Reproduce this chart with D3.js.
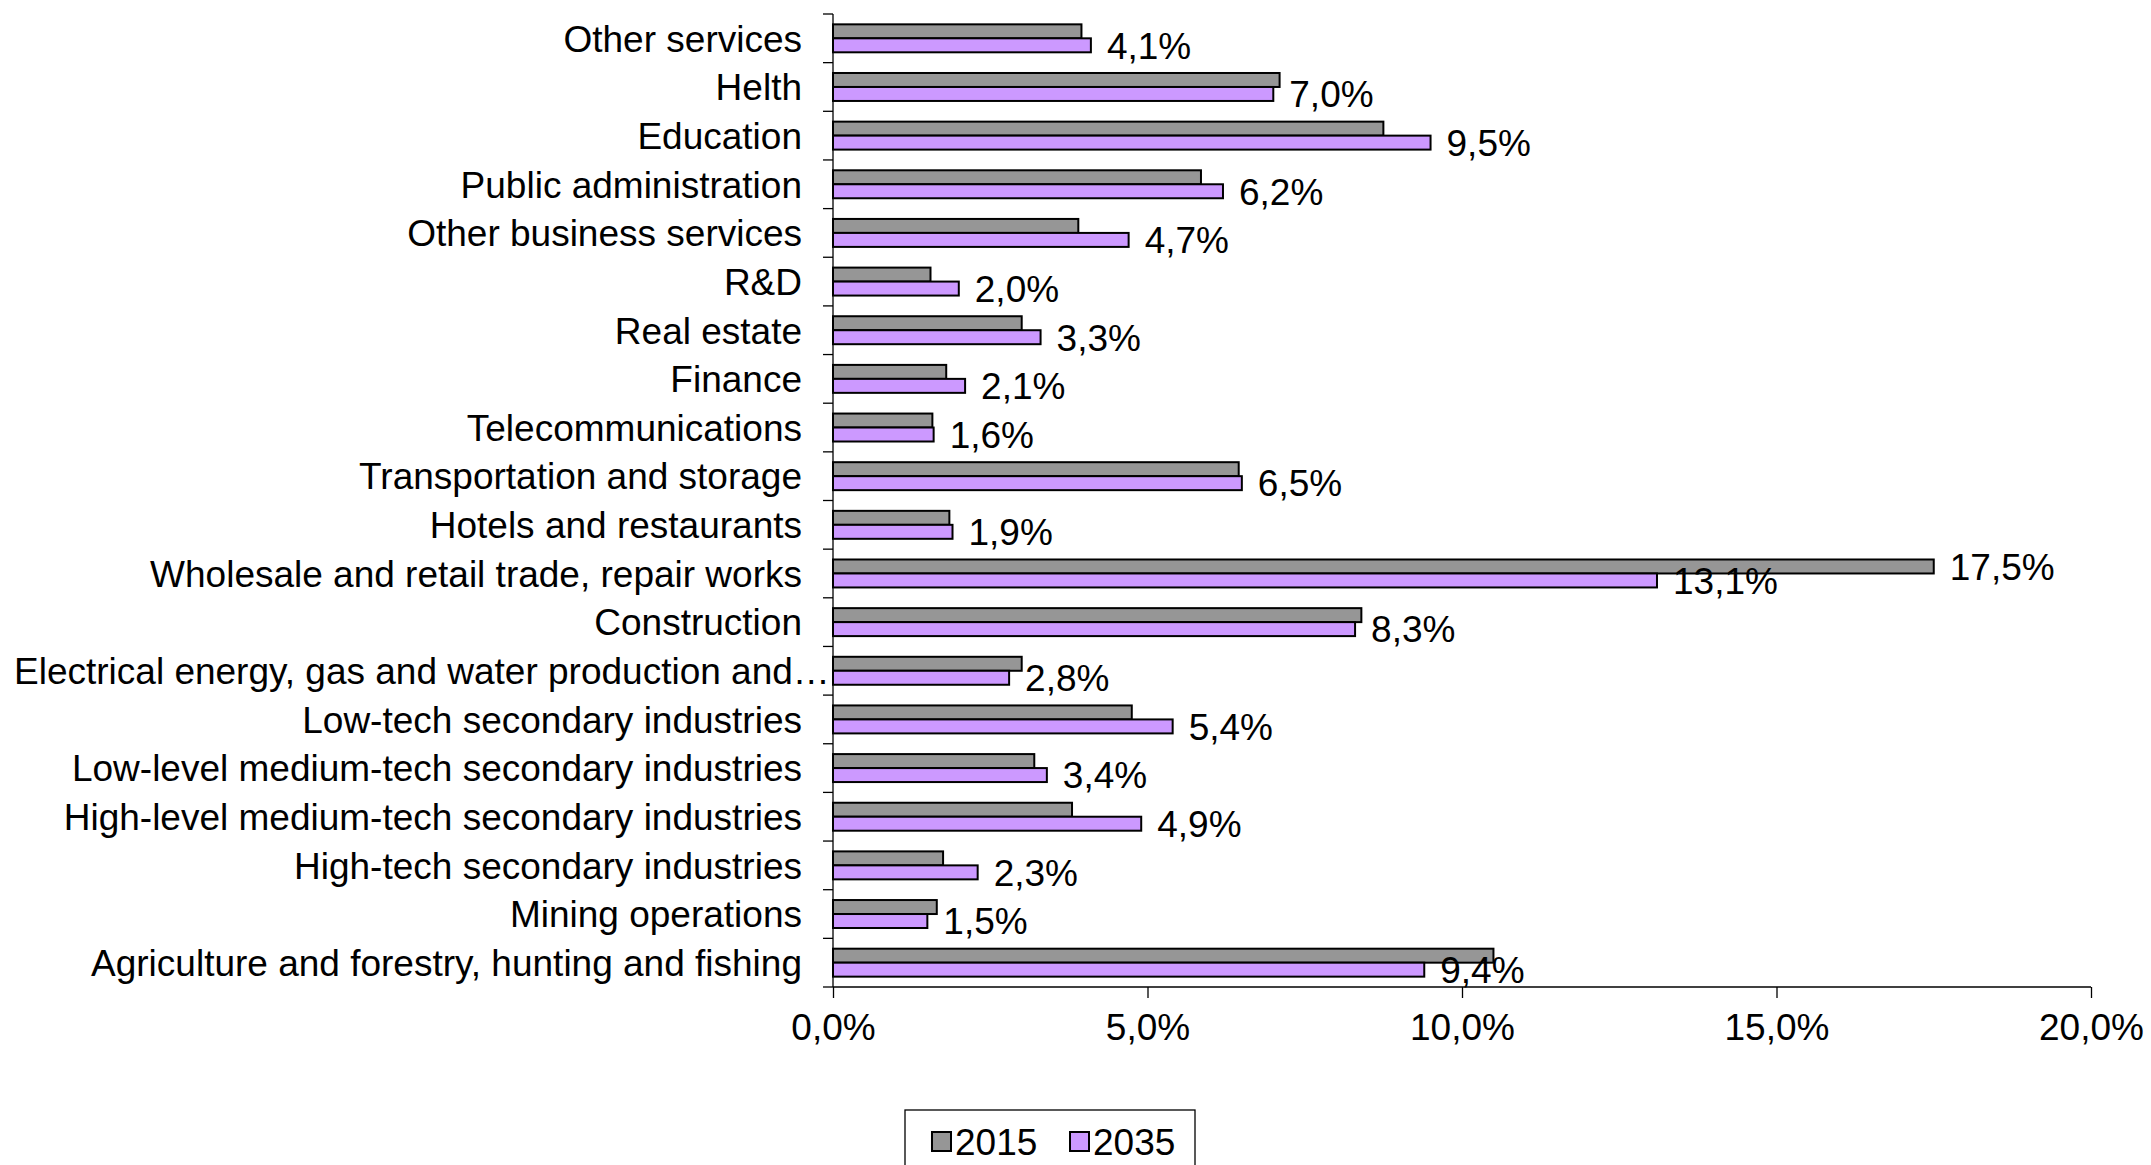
<!DOCTYPE html>
<html>
<head>
<meta charset="utf-8">
<script src="https://cdn.jsdelivr.net/npm/d3@7"></script>
<style>
  html, body { margin: 0; padding: 0; background: #fff; }
  svg { display: block; }
  text { font-family: "Liberation Sans", Arial, sans-serif; fill: #000; }
</style>
</head>
<body>
<svg id="chart" width="2151" height="1165"></svg>
<script>
const categories = [
  "Other services",
  "Helth",
  "Education",
  "Public administration",
  "Other business services",
  "R&D",
  "Real estate",
  "Finance",
  "Telecommunications",
  "Transportation and storage",
  "Hotels and restaurants",
  "Wholesale and retail trade, repair works",
  "Construction",
  "Electrical energy, gas and water production and…",
  "Low-tech secondary industries",
  "Low-level medium-tech secondary industries",
  "High-level medium-tech secondary industries",
  "High-tech secondary industries",
  "Mining operations",
  "Agriculture and forestry, hunting and fishing"
];
const seriesNames = ["2015", "2035"];
const values2015 = [3.95, 7.1, 8.75, 5.85, 3.9, 1.55, 3.0, 1.8, 1.58, 6.45, 1.85, 17.5, 8.4, 3.0, 4.75, 3.2, 3.8, 1.75, 1.65, 10.5];
const values2035 = [4.1, 7.0, 9.5, 6.2, 4.7, 2.0, 3.3, 2.1, 1.6, 6.5, 1.9, 13.1, 8.3, 2.8, 5.4, 3.4, 4.9, 2.3, 1.5, 9.4];
// which 2015 bars carry a data label (only the wholesale one in the source)
const labels2015 = ["Wholesale and retail trade, repair works"];
const xTicks = [0, 5, 10, 15, 20];

(function () {
const colors = { "2015": "#969696", "2035": "#CC99FF" };
const fmt = v => d3.format(".1f")(v).replace(".", ",") + "%";

const svg = d3.select("#chart");
const mLeft = 833, mRight = 2091, mTop = 14, mBottom = 987;
const FS = 37;

const x = d3.scaleLinear().domain([0, 20]).range([mLeft, mRight]);
const y0 = d3.scaleBand().domain(categories).range([mTop, mBottom]).padding(0);
const y1 = d3.scaleBand().domain(seriesNames).range([0, y0.bandwidth()]).paddingInner(0).paddingOuter(0.74);

const rows = categories.map((c, i) => ({ cat: c, vals: [
  { s: "2015", v: values2015[i] }, { s: "2035", v: values2035[i] }
]}));

// bars
const g = svg.append("g");
const groups = g.selectAll("g.row").data(rows).enter().append("g")
  .attr("transform", d => `translate(0,${y0(d.cat)})`);
groups.selectAll("rect").data(d => d.vals).enter().append("rect")
  .attr("x", x(0))
  .attr("y", d => y1(d.s))
  .attr("width", d => x(d.v) - x(0))
  .attr("height", y1.bandwidth())
  .attr("fill", d => colors[d.s])
  .attr("stroke", "#000")
  .attr("stroke-width", 2);

// data labels
groups.selectAll("text.lbl").data(d => d.vals.filter(v => v.s === "2035" || labels2015.includes(d.cat)))
  .enter().append("text")
  .attr("class", "lbl")
  .attr("x", d => x(d.v) + 16)
  .attr("y", d => y1(d.s) + y1.bandwidth() / 2)
  .attr("dy", "0.36em")
  .attr("font-size", FS)
  .text(d => fmt(d.v));

// y axis
const ya = svg.append("g").attr("transform", `translate(${mLeft},0)`);
ya.append("line").attr("x1", 0).attr("x2", 0).attr("y1", mTop).attr("y2", mBottom).attr("stroke", "#000").attr("stroke-width", 1.3);
const bounds = categories.map(c => y0(c)).concat([mBottom]);
ya.selectAll("line.tk").data(bounds).enter().append("line")
  .attr("x1", -10).attr("x2", 0)
  .attr("y1", d => d).attr("y2", d => d)
  .attr("stroke", "#000").attr("stroke-width", 1.3);
// category labels
const catLbl = svg.append("g").selectAll("text").data(categories).enter().append("text")
  .attr("x", 802)
  .attr("y", d => y0(d) + y0.bandwidth() / 2)
  .attr("dy", "0.36em")
  .attr("text-anchor", "end")
  .attr("font-size", FS)
  .text(d => d);
catLbl.each(function() {
  const bb = this.getBBox();
  if (bb.x < 14) {
    d3.select(this).attr("text-anchor", "start").attr("x", 14);
  }
});

// x axis
const xa = svg.append("g").attr("transform", `translate(0,${mBottom})`);
xa.call(d3.axisBottom(x).tickValues(xTicks).tickSize(11).tickPadding(16).tickFormat(fmt));
xa.select(".domain").attr("stroke", "#000").attr("stroke-width", 1.3).attr("d", `M${mLeft},0H${mRight}`);
xa.selectAll(".tick line").attr("stroke", "#000").attr("stroke-width", 1.3);
xa.selectAll(".tick text").attr("font-size", FS).attr("font-family", "Liberation Sans, Arial, sans-serif").attr("fill", "#000");

// legend
const lg = svg.append("g");
lg.append("rect").attr("x", 905).attr("y", 1110).attr("width", 290).attr("height", 80)
  .attr("fill", "#fff").attr("stroke", "#000").attr("stroke-width", 1.3);
const items = lg.selectAll("g.it").data(seriesNames).enter().append("g")
  .attr("transform", (d, i) => `translate(${932 + i * 138},1132)`);
items.append("rect").attr("width", 19).attr("height", 19)
  .attr("fill", d => colors[d]).attr("stroke", "#000").attr("stroke-width", 2);
items.append("text").attr("x", 23).attr("y", 10).attr("dy", "0.36em")
  .attr("font-size", FS).text(d => d);
})();
</script>
</body>
</html>
